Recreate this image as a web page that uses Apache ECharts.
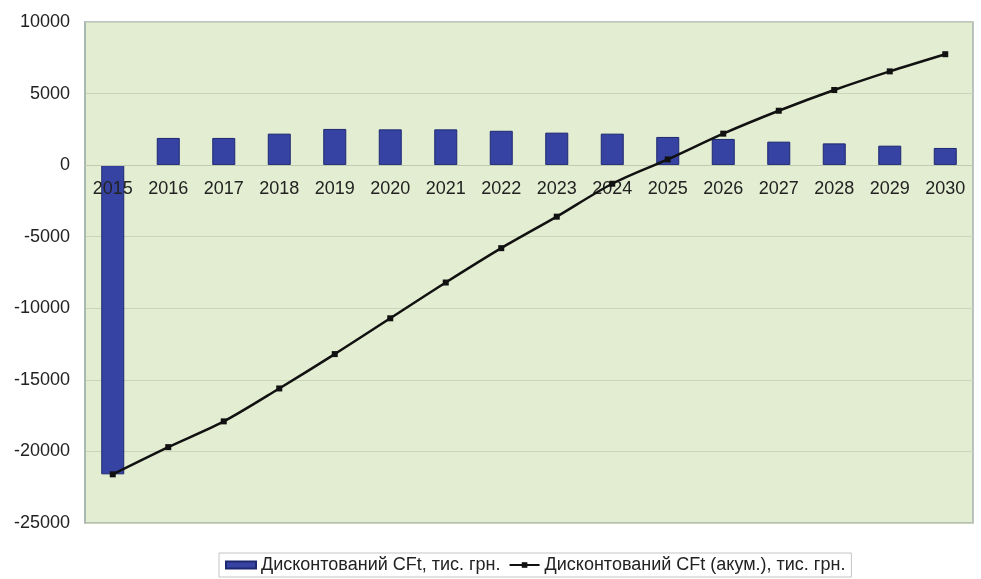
<!DOCTYPE html>
<html>
<head>
<meta charset="utf-8">
<script src="https://cdn.jsdelivr.net/npm/echarts@6/dist/echarts.min.js"></script>
<style>
  html, body { margin: 0; padding: 0; background: #ffffff; }
  #chart { width: 981px; height: 579px; }
</style>
</head>
<body>
<div id="chart"></div>
<script>
// Years of the project horizon
const years = ['2015', '2016', '2017', '2018', '2019', '2020', '2021', '2022',
               '2023', '2024', '2025', '2026', '2027', '2028', '2029', '2030'];

// Discounted cash flow per year, thousand UAH
const discountedCF = [-21600, 1900, 1900, 2200, 2530, 2500, 2500, 2400,
                      2270, 2200, 1970, 1830, 1640, 1520, 1360, 1200];

// Accumulated discounted cash flow, thousand UAH
const cumulativeCF = [-21600, -19700, -17900, -15600, -13200, -10700, -8200, -5800,
                      -3600, -1300, 400, 2200, 3800, 5250, 6550, 7750];

// Value axis range and step
const yMin = -25000;
const yMax = 10000;
const yStep = 5000;

const barName = 'Дисконтований CFt, тис. грн.';
const lineName = 'Дисконтований CFt (акум.), тис. грн.';

const chart = echarts.init(document.getElementById('chart'));
chart.setOption({
  animation: false,
  textStyle: { fontFamily: 'Liberation Sans, Arial, sans-serif' },
  grid: {
    left: 85, right: 8, top: 22, bottom: 56,
    show: true,
    backgroundColor: '#e3edd2',
    borderColor: '#a7b3ae',
    borderWidth: 1.5
  },
  legend: {
    bottom: 2,
    left: 219,
    itemGap: 8,
    itemWidth: 30,
    itemHeight: 7,
    padding: [3, 6],
    borderColor: '#c4c4c4',
    borderWidth: 1,
    textStyle: { fontSize: 18, color: '#222' },
    data: [
      { name: barName, icon: 'rect' },
      { name: lineName }
    ]
  },
  xAxis: {
    type: 'category',
    data: years,
    position: 'bottom',
    z: 3,
    axisLine: { onZero: false, lineStyle: { color: '#c0cab0', width: 1 } },
    axisTick: { show: false },
    axisLabel: { fontSize: 18, color: '#222', margin: 15 }
  },
  yAxis: {
    type: 'value',
    min: yMin,
    max: yMax,
    interval: yStep,
    axisLine: { show: true, lineStyle: { color: '#a7b3ae', width: 1.5 } },
    axisTick: { show: false },
    axisLabel: {
      fontSize: 18, color: '#222', margin: 15,
      formatter: function (v) { return String(v); }
    },
    splitLine: { lineStyle: { color: '#c9d4b8', width: 1 } }
  },
  series: [{
    name: barName,
    type: 'bar',
    data: discountedCF,
    barWidth: 23,
    itemStyle: { color: '#3643a3', borderColor: '#1e2870', borderWidth: 1 }
  }, {
    name: lineName,
    type: 'line',
    data: cumulativeCF,
    smooth: 0.3,
    symbol: 'rect',
    symbolSize: 6,
    lineStyle: { color: '#111', width: 2.5 },
    itemStyle: { color: '#111' },
    z: 5
  }]
});

// Lift the category axis so it runs along the zero level of the value axis
const zeroY = chart.convertToPixel({ yAxisIndex: 0 }, 0);
const bottomY = chart.convertToPixel({ yAxisIndex: 0 }, yMin);
chart.setOption({ xAxis: { offset: zeroY - bottomY } });
</script>
</body>
</html>
